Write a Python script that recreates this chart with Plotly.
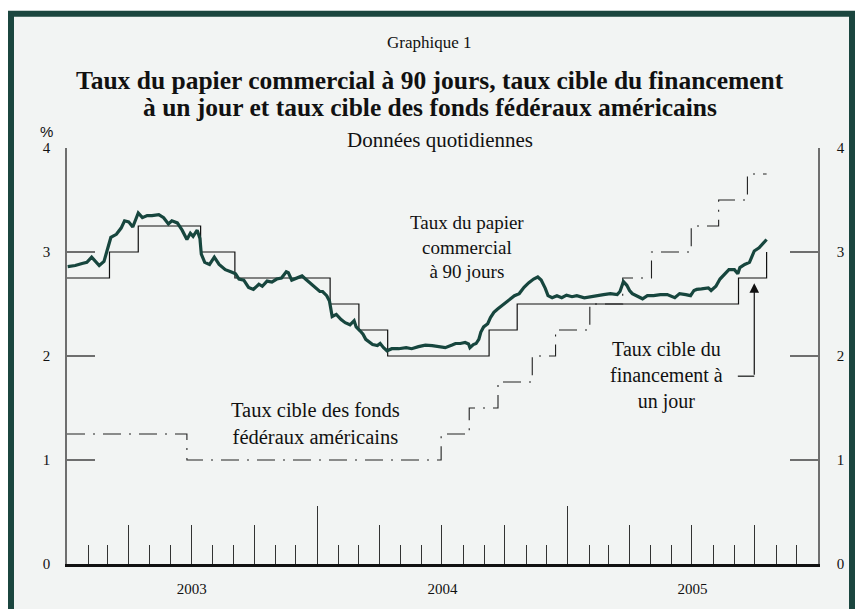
import plotly.graph_objects as go

# ---------------- data ----------------
cp_dates = [
    "2003-01-02", "2003-01-13", "2003-01-23", "2003-01-30", "2003-02-06", "2003-02-11", "2003-02-17",
    "2003-02-24", "2003-02-28", "2003-03-06", "2003-03-14", "2003-03-21", "2003-03-26", "2003-04-01",
    "2003-04-07", "2003-04-10", "2003-04-15", "2003-04-21", "2003-04-28", "2003-05-05", "2003-05-15",
    "2003-05-22", "2003-05-29", "2003-06-03", "2003-06-11", "2003-06-18", "2003-06-25", "2003-06-30",
    "2003-07-04", "2003-07-10", "2003-07-14", "2003-07-16", "2003-07-21", "2003-07-28", "2003-08-04",
    "2003-08-11", "2003-08-20", "2003-08-28", "2003-09-04", "2003-09-09", "2003-09-16", "2003-09-23",
    "2003-09-30", "2003-10-08", "2003-10-13", "2003-10-20", "2003-10-27", "2003-11-03", "2003-11-10",
    "2003-11-17", "2003-11-20", "2003-11-25", "2003-12-02", "2003-12-10", "2003-12-15", "2003-12-22",
    "2003-12-29", "2004-01-05", "2004-01-09", "2004-01-15", "2004-01-19", "2004-01-21", "2004-01-23",
    "2004-01-29", "2004-02-05", "2004-02-11", "2004-02-18", "2004-02-24", "2004-02-27", "2004-03-04",
    "2004-03-08", "2004-03-12", "2004-03-22", "2004-03-29", "2004-04-02", "2004-04-07", "2004-04-12",
    "2004-04-19", "2004-04-29", "2004-05-10", "2004-05-18", "2004-05-28", "2004-06-07", "2004-06-17",
    "2004-06-25", "2004-07-06", "2004-07-16", "2004-07-21", "2004-07-28", "2004-08-04", "2004-08-09",
    "2004-08-11", "2004-08-16", "2004-08-20", "2004-08-24", "2004-08-27", "2004-08-31", "2004-09-06",
    "2004-09-10", "2004-09-15", "2004-09-20", "2004-09-24", "2004-10-01", "2004-10-08", "2004-10-15",
    "2004-10-22", "2004-10-29", "2004-11-05", "2004-11-12", "2004-11-18", "2004-11-23", "2004-11-29",
    "2004-12-03", "2004-12-09", "2004-12-16", "2004-12-23", "2004-12-30", "2005-01-07", "2005-01-14",
    "2005-01-25", "2005-02-03", "2005-02-11", "2005-02-22", "2005-03-04", "2005-03-14", "2005-03-18",
    "2005-03-23", "2005-03-28", "2005-04-01", "2005-04-05", "2005-04-12", "2005-04-20", "2005-04-27",
    "2005-05-06", "2005-05-16", "2005-05-26", "2005-06-06", "2005-06-13", "2005-06-22", "2005-06-29",
    "2005-07-04", "2005-07-08", "2005-07-15", "2005-07-25", "2005-07-29", "2005-08-05", "2005-08-11",
    "2005-08-17", "2005-08-24", "2005-09-01", "2005-09-06", "2005-09-09", "2005-09-16", "2005-09-23",
    "2005-09-27", "2005-09-30", "2005-10-07", "2005-10-14", "2005-10-18",
]
cp_rates = [
    2.86, 2.87, 2.89, 2.90, 2.95, 2.91, 2.87,
    2.91, 3.01, 3.14, 3.17, 3.23, 3.30, 3.29,
    3.24, 3.29, 3.375, 3.33, 3.35, 3.35, 3.36,
    3.33, 3.27, 3.30, 3.28, 3.21, 3.12, 3.18,
    3.15, 3.21, 3.13, 2.98, 2.90, 2.88, 2.95,
    2.88, 2.83, 2.81, 2.79, 2.74, 2.73, 2.66,
    2.64, 2.69, 2.67, 2.72, 2.71, 2.74, 2.75,
    2.81, 2.80, 2.73, 2.75, 2.77, 2.74, 2.70,
    2.66, 2.62, 2.62, 2.58, 2.53, 2.47, 2.38,
    2.40, 2.35, 2.32, 2.30, 2.34, 2.28, 2.24,
    2.21, 2.16, 2.11, 2.10, 2.12, 2.08, 2.05,
    2.07, 2.07, 2.08, 2.07, 2.09, 2.105, 2.10,
    2.09, 2.08, 2.105, 2.12, 2.12, 2.13, 2.115,
    2.08, 2.11, 2.12, 2.16, 2.23, 2.28, 2.31,
    2.37, 2.42, 2.45, 2.47, 2.51, 2.54, 2.58,
    2.60, 2.66, 2.705, 2.74, 2.76, 2.73, 2.65,
    2.58, 2.56, 2.58, 2.56, 2.585, 2.57, 2.58,
    2.56, 2.57, 2.585, 2.59, 2.60, 2.59, 2.62,
    2.715, 2.68, 2.63, 2.60, 2.58, 2.55, 2.58,
    2.58, 2.59, 2.59, 2.56, 2.60, 2.59, 2.58,
    2.63, 2.64, 2.645, 2.655, 2.63, 2.67, 2.74,
    2.78, 2.83, 2.83, 2.79, 2.85, 2.88, 2.90,
    2.97, 3.01, 3.04, 3.09, 3.12,
]

boc_dates = ["2003-01-01", "2003-03-04", "2003-04-15", "2003-07-15", "2003-09-03", "2004-01-20",
             "2004-03-02", "2004-04-13", "2004-09-08", "2004-10-19", "2005-09-07", "2005-10-18"]
boc_rates = [2.75, 3.00, 3.25, 3.00, 2.75, 2.50, 2.25, 2.00, 2.25, 2.50, 2.75, 3.00]

fed_dates = ["2003-01-01", "2003-06-25", "2004-06-30", "2004-08-10", "2004-09-21", "2004-11-10",
             "2004-12-14", "2005-02-02", "2005-03-22", "2005-05-03", "2005-06-30", "2005-08-09",
             "2005-09-20", "2005-10-18"]
fed_rates = [1.25, 1.00, 1.25, 1.50, 1.75, 2.00, 2.25, 2.50, 2.75, 3.00, 3.25, 3.50, 3.75, 3.75]

x_range = ["2003-01-01", "2006-01-01"]
quarter_ticks = ["2003-04-01", "2003-07-01", "2003-10-01", "2004-01-01", "2004-04-01", "2004-07-01",
                 "2004-10-01", "2005-01-01", "2005-04-01", "2005-07-01", "2005-10-01"]
year_ticks = ["2004-01-01", "2005-01-01"]
year_label_pos = ["2003-07-02", "2004-07-02", "2005-07-02"]
year_labels = ["2003", "2004", "2005"]
y_ticks = [0, 1, 2, 3, 4]

SERIF = "Liberation Serif"
GREEN = "#17463e"
BG = "#f2f4f3"
INK = "#111111"

fig = go.Figure()

fig.add_trace(go.Scatter(x=fed_dates, y=fed_rates, mode="lines", line_shape="hv",
                         line=dict(color="#222222", width=1.1, dash="18px,8px,2px,8px"),
                         hoverinfo="skip", showlegend=False))
fig.add_trace(go.Scatter(x=boc_dates, y=boc_rates, mode="lines", line_shape="hv",
                         line=dict(color=INK, width=1.2),
                         hoverinfo="skip", showlegend=False))
fig.add_trace(go.Scatter(x=cp_dates, y=cp_rates, mode="lines",
                         line=dict(color=GREEN, width=3.2),
                         hoverinfo="skip", showlegend=False))
# helper traces so the overlay axes are drawn
fig.add_trace(go.Scatter(x=[], y=[], xaxis="x2", yaxis="y", showlegend=False, hoverinfo="skip"))
fig.add_trace(go.Scatter(x=[], y=[], xaxis="x3", yaxis="y", showlegend=False, hoverinfo="skip"))
fig.add_trace(go.Scatter(x=[], y=[], xaxis="x", yaxis="y2", showlegend=False, hoverinfo="skip"))

L, R, T, B = 67, 818, 148, 566
W, H = 859, 609
PW, PH = R - L, B - T


def px(xp):
    return (xp - L) / PW


def py(yp):
    return (B - yp) / PH


fig.update_layout(
    width=W, height=H,
    margin=dict(l=L, r=W - R, t=T, b=H - B, pad=0),
    paper_bgcolor="white",
    plot_bgcolor="rgba(0,0,0,0)",
    font=dict(family=SERIF, color=INK, size=15),
    xaxis=dict(type="date", range=x_range, showgrid=False, zeroline=False,
               showline=True, linecolor=INK, linewidth=2.5,
               tickmode="array", tickvals=quarter_ticks, ticks="inside", ticklen=39,
               tickwidth=1, tickcolor="#333333", showticklabels=False,
               minor=dict(ticks="inside", ticklen=19, dtick="M1", tick0="2003-01-01",
                          tickwidth=1, tickcolor="#333333", showgrid=False)),
    xaxis2=dict(type="date", range=x_range, overlaying="x", anchor="y", side="bottom",
                showgrid=False, zeroline=False, showline=False,
                tickmode="array", tickvals=year_ticks, ticks="inside", ticklen=58,
                tickwidth=1, tickcolor="#333333", showticklabels=False),
    xaxis3=dict(type="date", range=x_range, overlaying="x", anchor="y", side="bottom",
                showgrid=False, zeroline=False, showline=False,
                tickmode="array", tickvals=year_label_pos, ticktext=year_labels,
                ticks="", ticklabelstandoff=14, tickfont=dict(family=SERIF, size=15, color=INK)),
    yaxis=dict(range=[0, 4], tickvals=y_ticks, showgrid=False, zeroline=False,
               showline=True, linecolor="#6e6e6e", linewidth=1.5,
               ticks="inside", ticklen=28, tickwidth=1.5, tickcolor="#6e6e6e",
               ticklabelstandoff=12, tickfont=dict(family=SERIF, size=15, color=INK)),
    yaxis2=dict(range=[0, 4], tickvals=y_ticks, overlaying="y", anchor="x", side="right",
                showgrid=False, zeroline=False,
                showline=True, linecolor="#6e6e6e", linewidth=1.5,
                ticks="inside", ticklen=28, tickwidth=1.5, tickcolor="#6e6e6e",
                ticklabelstandoff=14, tickfont=dict(family=SERIF, size=15, color=INK)),
)

# frame around the whole chart
fig.add_shape(type="rect", xref="paper", yref="paper", layer="below",
              x0=px(11), x1=px(852), y0=py(625), y1=py(13),
              fillcolor=BG, line=dict(color="#1b463f", width=6))


def paper_text(x, y, text, size, family=SERIF):
    fig.add_annotation(xref="paper", yref="paper", x=px(x), y=py(y), text=text,
                       xanchor="center", yanchor="middle", showarrow=False,
                       font=dict(family=family, size=size, color=INK))


# titles
paper_text(429, 42, "Graphique 1", 17)
paper_text(430, 80, "<b>Taux du papier commercial à 90 jours, taux cible du financement</b>", 25.5)
paper_text(430, 107, "<b>à un jour et taux cible des fonds fédéraux américains</b>", 25.5)
paper_text(440, 140, "Données quotidiennes", 21)
paper_text(46, 131, "%", 15, "Liberation Sans")

# series labels
fig.add_annotation(x="2004-08-07", y=3.05, text="Taux du papier<br>commercial<br>à 90 jours",
                   showarrow=False, font=dict(family=SERIF, size=19, color=INK))
fig.add_annotation(x="2003-12-29", y=1.352, text="Taux cible des fonds<br>fédéraux américains",
                   showarrow=False, font=dict(family=SERIF, size=20.5, color=INK))
fig.add_annotation(x="2005-05-25", y=1.81, text="Taux cible du<br>financement à<br>un jour",
                   showarrow=False, font=dict(family=SERIF, size=20, color=INK))

# elbow connector with arrow
fig.add_shape(type="line", x0="2005-09-06", x1="2005-09-30", y0=1.806, y1=1.806,
              line=dict(color=INK, width=1.2))
fig.add_annotation(x="2005-09-30", y=2.70, ax="2005-09-30", ay=1.806, axref="x", ayref="y",
                   text="", showarrow=True, arrowhead=2, arrowsize=1.6, arrowwidth=1.2,
                   arrowcolor=INK, standoff=0)

fig.write_html("out.html", config={"displayModeBar": False},
               post_script="document.body.style.margin='0px';document.body.style.overflow='hidden';")
